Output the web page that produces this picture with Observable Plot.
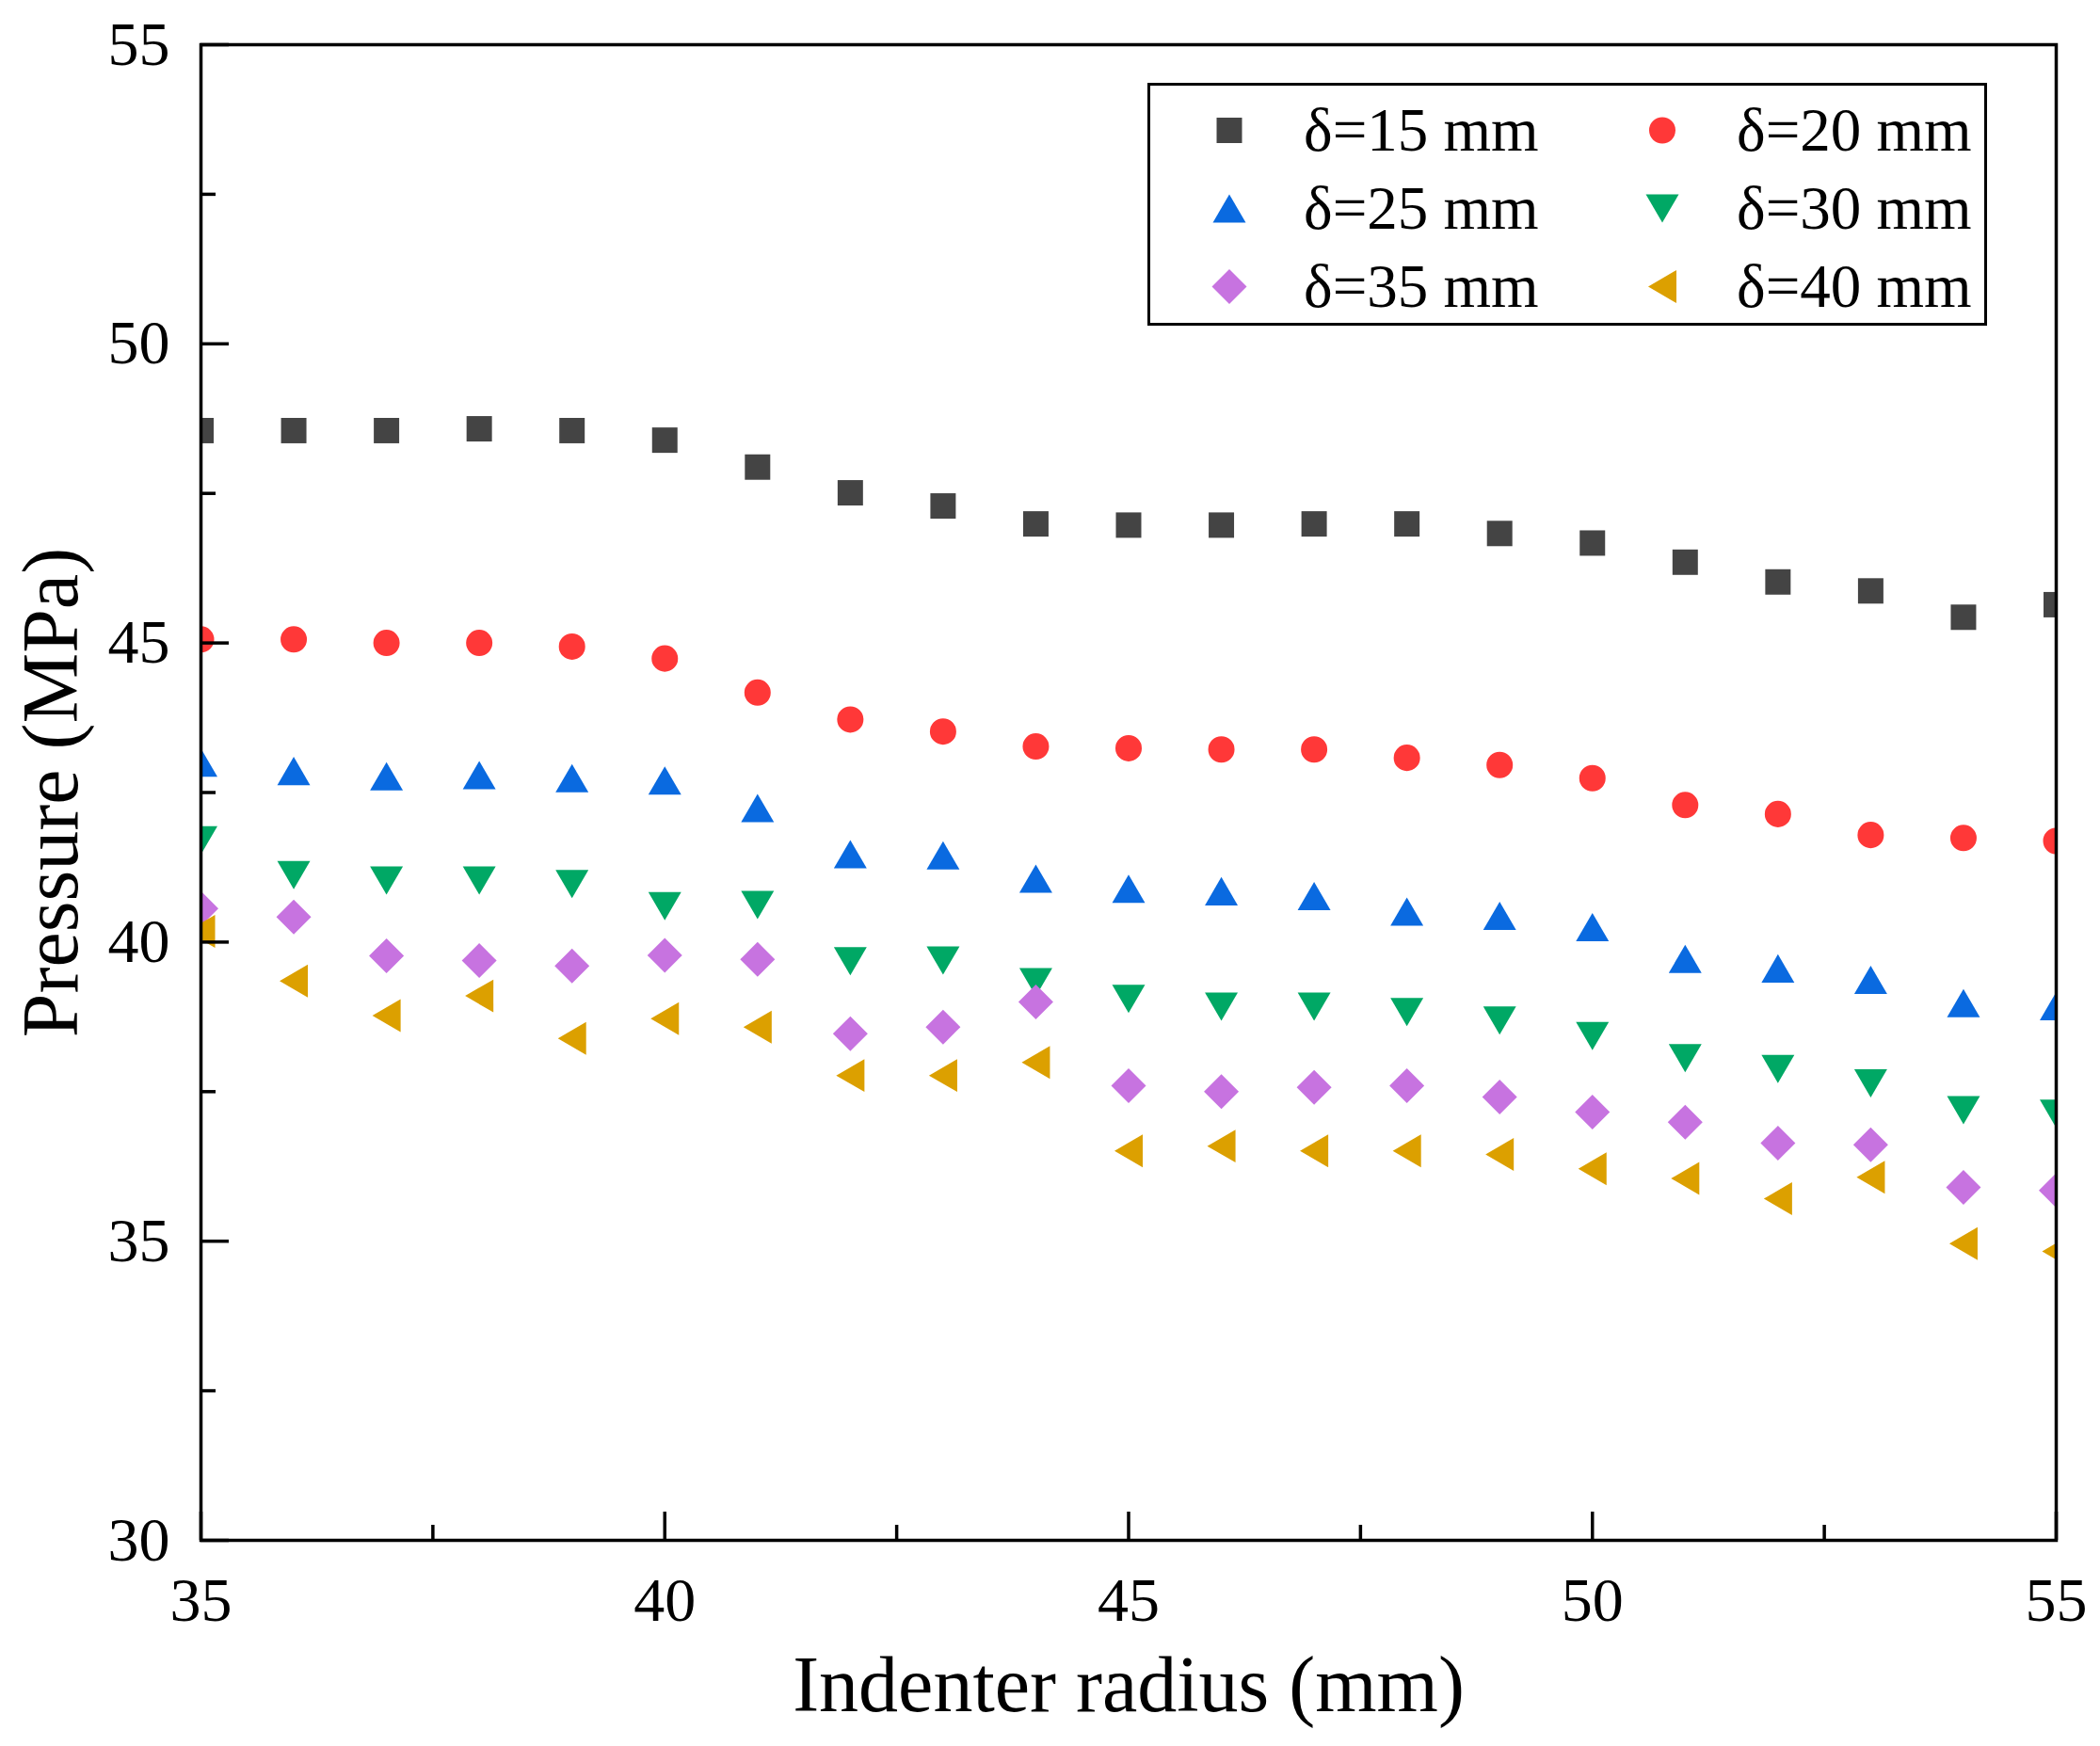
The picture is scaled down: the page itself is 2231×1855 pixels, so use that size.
<!DOCTYPE html>
<html>
<head>
<meta charset="utf-8">
<script src="https://cdn.jsdelivr.net/npm/d3@7"></script>
<script src="https://cdn.jsdelivr.net/npm/@observablehq/plot@0.6"></script>
<style>
  body { margin: 0; background: #fff; }
  #chart { position: relative; width: 2231px; height: 1855px; }
  #chart svg text { font-family: "Liberation Serif", "Times New Roman", serif; }
  #legend {
    position: absolute; left: 1219px; top: 88px; width: 892px; height: 258px;
    box-sizing: border-box; border: 3px solid #000; background: #fff;
    display: grid; grid-template-columns: 460px 426px; grid-auto-rows: 83px; padding-top: 6px;
    font-family: "Liberation Serif", "Times New Roman", serif; font-size: 65px; color: #000;
  }
  .item { display: flex; align-items: center; white-space: nowrap; }
  .item svg { width: 163px; height: 83px; flex: none; }
</style>
</head>
<body>
<div id="chart"></div>
<script>
// indenter radius (mm)
const radius = [35, 36, 37, 38, 39, 40, 41, 42, 43, 44, 45, 46, 47, 48, 49, 50, 51, 52, 53, 54, 55];

// pressure (MPa) for each plate thickness
const p15 = [48.55, 48.55, 48.55, 48.58, 48.55, 48.39, 47.94, 47.51, 47.29, 46.99, 46.97, 46.97, 46.99, 46.99, 46.83, 46.67, 46.35, 46.02, 45.87, 45.43, 45.64];
const p20 = [45.06, 45.06, 45.0, 45.0, 44.94, 44.74, 44.17, 43.72, 43.52, 43.27, 43.24, 43.22, 43.22, 43.08, 42.96, 42.74, 42.29, 42.14, 41.79, 41.74, 41.69];
const p25 = [43.0, 42.86, 42.77, 42.79, 42.74, 42.70, 42.24, 41.47, 41.45, 41.06, 40.89, 40.85, 40.77, 40.51, 40.44, 40.25, 39.72, 39.56, 39.37, 38.98, 38.93];
const p30 = [41.70, 41.12, 41.03, 41.03, 40.97, 40.60, 40.62, 39.68, 39.69, 39.33, 39.05, 38.92, 38.92, 38.83, 38.69, 38.43, 38.06, 37.88, 37.64, 37.19, 37.13];
const p35 = [40.56, 40.42, 39.77, 39.69, 39.60, 39.78, 39.71, 38.47, 38.58, 39.0, 37.60, 37.50, 37.57, 37.60, 37.41, 37.16, 36.99, 36.64, 36.61, 35.90, 35.85];
const p40 = [40.18, 39.35, 38.77, 39.10, 38.39, 38.72, 38.58, 37.77, 37.77, 37.99, 36.51, 36.59, 36.51, 36.51, 36.45, 36.21, 36.05, 35.71, 36.07, 34.96, 34.83];

const labels = ["δ=15 mm", "δ=20 mm", "δ=25 mm", "δ=30 mm", "δ=35 mm", "δ=40 mm"];
const values = [p15, p20, p25, p30, p35, p40];
const colors = ["#444444", "#ff3838", "#0a6ae0", "#00a865", "#c773e0", "#dca000"];

const xMajor = [35, 40, 45, 50, 55];
const xMinor = [37.5, 42.5, 47.5, 52.5];
const yMajor = [30, 35, 40, 45, 50, 55];
const yMinor = [32.5, 37.5, 42.5, 47.5, 52.5];

// marker shapes (Origin style)
const symSquare = {draw(c, size) { const h = 0.525 * Math.sqrt(size); c.moveTo(-h, -h); c.lineTo(h, -h); c.lineTo(h, h); c.lineTo(-h, h); c.closePath(); }};
const symCircle = {draw(c, size) { const r = 0.545 * Math.sqrt(size); c.moveTo(r, 0); c.arc(0, 0, r, 0, 2 * Math.PI); c.closePath(); }};
const symUp = {draw(c, size) { const s = Math.sqrt(size), w = 0.68 * s, h = 0.584 * s; c.moveTo(0, -h); c.lineTo(w, h); c.lineTo(-w, h); c.closePath(); }};
const symDown = {draw(c, size) { const s = Math.sqrt(size), w = 0.68 * s, h = 0.584 * s; c.moveTo(0, h); c.lineTo(w, -h); c.lineTo(-w, -h); c.closePath(); }};
const symDiamond = {draw(c, size) { const d = 0.72 * Math.sqrt(size); c.moveTo(0, -d); c.lineTo(d, 0); c.lineTo(0, d); c.lineTo(-d, 0); c.closePath(); }};
const symLeft = {draw(c, size) { const s = Math.sqrt(size), w = 0.584 * s, h = 0.68 * s; c.moveTo(-w, 0); c.lineTo(w, -h); c.lineTo(w, h); c.closePath(); }};
const symbols = [symSquare, symCircle, symUp, symDown, symDiamond, symLeft];

const R = 14.5;
const font = '"Liberation Serif", "Times New Roman", serif';

const rows = labels.flatMap((s, i) => radius.map((r, j) => ({series: s, r, p: values[i][j]})));

const dots = labels.map((s, i) =>
  Plot.dot(rows.filter(d => d.series === s), {
    x: "r", y: "p", symbol: symbols[i], fill: colors[i], r: R, clip: true
  })
);

const chart = Plot.plot({
  width: 2231,
  height: 1855,
  marginLeft: 213,
  marginRight: 47,
  marginTop: 47,
  marginBottom: 219,
  x: { domain: [35, 55], axis: null },
  y: { domain: [30, 55], axis: null },
  style: { fontFamily: font, fontSize: "66px", color: "#000", background: "#fff" },
  marks: [
    ...dots,
    Plot.frame({ stroke: "#000", strokeWidth: 3.5 }),
    // inward ticks
    Plot.axisX({ ticks: xMajor, tickSize: -30, tickFormat: () => "", strokeWidth: 3.5, label: null }),
    Plot.axisX({ ticks: xMinor, tickSize: -16, tickFormat: () => "", strokeWidth: 3.5, label: null }),
    Plot.axisY({ ticks: yMajor, tickSize: -30, tickFormat: () => "", strokeWidth: 3.5, label: null }),
    Plot.axisY({ ticks: yMinor, tickSize: -16, tickFormat: () => "", strokeWidth: 3.5, label: null }),
    // tick labels
    Plot.axisX({ ticks: xMajor, tickSize: 0, tickPadding: 39, fontSize: 66, fontFamily: font, label: null }),
    Plot.axisY({ ticks: yMajor, tickSize: 0, tickPadding: 33, fontSize: 66, fontFamily: font, label: null }),
    // axis titles
    Plot.text(["Indenter radius (mm)"], {
      text: d => d, frameAnchor: "bottom", textAnchor: "middle", lineAnchor: "middle",
      dy: 155, fontSize: 84, fontFamily: font
    }),
    Plot.text(["Pressure (MPa)"], {
      text: d => d, frameAnchor: "left", textAnchor: "middle", lineAnchor: "middle",
      dx: -158, rotate: -90, fontSize: 84, fontFamily: font
    })
  ]
});

const wrap = d3.select("#chart");
wrap.append(() => chart);

// legend box
const legend = wrap.append("div").attr("id", "legend");
labels.forEach((s, i) => {
  const item = legend.append("div").attr("class", "item");
  const svg = item.append("svg").attr("viewBox", "0 0 163 83");
  svg.append("path")
    .attr("transform", "translate(84,41.5)")
    .attr("fill", colors[i])
    .attr("d", d3.symbol(symbols[i], Math.PI * R * R)());
  item.append("span").text(s);
});
</script>
</body>
</html>
